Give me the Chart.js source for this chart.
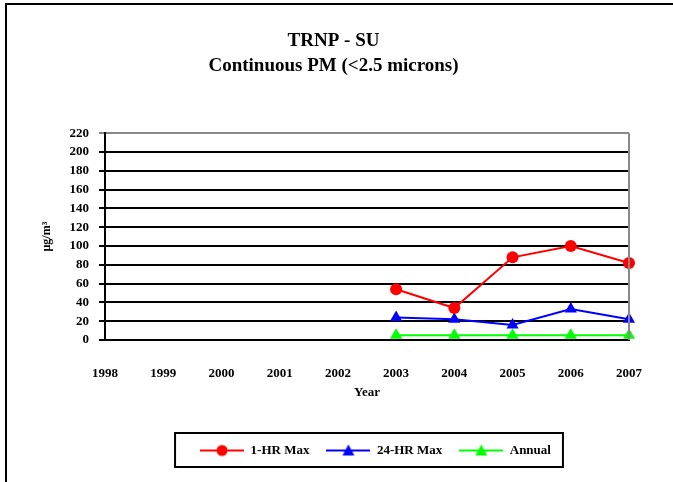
<!DOCTYPE html>
<html>
<head>
<meta charset="utf-8">
<script src="https://cdn.jsdelivr.net/npm/chart.js@4/dist/chart.umd.min.js"></script>
<style>
  html, body { margin: 0; padding: 0; background: #fff; }
  #wrap { width: 673px; height: 482px; position: relative; }
</style>
</head>
<body>
<div id="wrap"><canvas id="chart" width="673" height="482"></canvas></div>
<script>
const years = ['1998', '1999', '2000', '2001', '2002', '2003', '2004', '2005', '2006', '2007']
const oneHrMax = [null, null, null, null, null, 54, 34, 88, 100, 82]
const twentyFourHrMax = [null, null, null, null, null, 24, 22, 16, 33, 22]
const annual = [null, null, null, null, null, 5, 5, 5, 5, 5]
const titleLines = ['TRNP - SU', 'Continuous PM (<2.5 microns)']

const serif = "'Liberation Serif', 'Times New Roman', serif"

// small line + marker swatch for the legend
function swatch(color, style) {
    const c = document.createElement('canvas')
    c.width = 44
    c.height = 14
    const g = c.getContext('2d')
    g.strokeStyle = color
    g.lineWidth = 2
    g.beginPath()
    g.moveTo(0, 7)
    g.lineTo(44, 7)
    g.stroke()
    g.fillStyle = color
    g.beginPath()
    if (style === 'circle') {
        g.arc(22, 7, 5.5, 0, Math.PI * 2)
    } else {
        g.moveTo(22, 1)
        g.lineTo(28, 12)
        g.lineTo(16, 12)
        g.closePath()
    }
    g.fill()
    return c
}

const frame = {
    id: 'frame',
    afterLayout(chart) {
        // legend sits a bit right of centre in the original
        chart.legend.left += 42
        chart.legend.right += 42
    },
    afterDraw(chart) {
        const { ctx, chartArea: a, legend } = chart
        ctx.save()
        // plot right edge
        ctx.strokeStyle = '#888'
        ctx.lineWidth = 2
        ctx.beginPath()
        ctx.moveTo(a.right, a.top)
        ctx.lineTo(a.right, a.bottom)
        ctx.stroke()
        // outer border
        ctx.strokeStyle = '#000'
        ctx.lineWidth = 2
        ctx.strokeRect(6, 4, 700, 500)
        // legend box
        const hb = legend.legendHitBoxes
        if (hb && hb.length) {
            const last = hb[hb.length - 1]
            const left = hb[0].left - 25
            const right = last.left + last.width + 12
            ctx.strokeRect(left, legend.top + 6, right - left, legend.height - 6)
        }
        ctx.restore()
    }
}

new Chart(document.getElementById('chart'), {
    type: 'line',
    data: {
        labels: years,
        datasets: [
            {
                label: '1-HR Max',
                data: oneHrMax,
                borderColor: '#ff0000',
                backgroundColor: '#ff0000',
                borderWidth: 2,
                pointStyle: 'circle',
                pointRadius: 6,
                pointBorderWidth: 0
            },
            {
                label: '24-HR Max',
                data: twentyFourHrMax,
                borderColor: '#0000ff',
                backgroundColor: '#0000ff',
                borderWidth: 2,
                pointStyle: 'triangle',
                pointRadius: 7,
                pointBorderWidth: 0
            },
            {
                label: 'Annual',
                data: annual,
                borderColor: '#00ff00',
                backgroundColor: '#00ff00',
                borderWidth: 2,
                pointStyle: 'triangle',
                pointRadius: 7,
                pointBorderWidth: 0
            }
        ]
    },
    options: {
        responsive: false,
        animation: false,
        layout: { padding: { left: 38, right: 44, top: 10, bottom: 15 } },
        plugins: {
            title: {
                display: true,
                text: titleLines,
                color: '#000',
                font: { family: serif, size: 19, weight: 'bold', lineHeight: 1.35 },
                padding: { top: 18, bottom: 54 }
            },
            legend: {
                position: 'bottom',
                labels: {
                    usePointStyle: true,
                    pointStyleWidth: 44,
                    color: '#000',
                    font: { family: serif, size: 13, weight: 'bold' },
                    padding: 17,
                    generateLabels(chart) {
                        const shapes = ['circle', 'triangle', 'triangle']
                        return chart.data.datasets.map((ds, i) => ({
                            text: ds.label,
                            fillStyle: ds.borderColor,
                            strokeStyle: ds.borderColor,
                            lineWidth: 0,
                            pointStyle: swatch(ds.borderColor, shapes[i]),
                            datasetIndex: i,
                            hidden: false
                        }))
                    }
                }
            },
            tooltip: { enabled: false }
        },
        scales: {
            x: {
                offset: false,
                grid: { display: false, drawTicks: false },
                border: { display: true, color: '#000', width: 2 },
                ticks: {
                    color: '#000',
                    padding: 26,
                    maxRotation: 0,
                    autoSkip: false,
                    font: { family: serif, size: 13, weight: 'bold' }
                },
                title: {
                    display: true,
                    text: 'Year',
                    color: '#000',
                    font: { family: serif, size: 13, weight: 'bold' },
                    padding: { top: 6, bottom: 27 }
                },
                afterFit(scale) { scale.height = 87 }
            },
            y: {
                min: 0,
                max: 220,
                ticks: {
                    stepSize: 20,
                    autoSkip: false,
                    color: '#000',
                    padding: 10,
                    font: { family: serif, size: 13, weight: 'bold' }
                },
                grid: {
                    color: ctx => ctx.tick && ctx.tick.value === 220 ? '#888' : '#000',
                    lineWidth: 2,
                    drawTicks: true,
                    tickLength: 6
                },
                border: { display: true, color: '#000', width: 2 },
                title: {
                    display: true,
                    text: 'µg/m³',
                    color: '#000',
                    font: { family: serif, size: 12, weight: 'bold' },
                    padding: { top: 2, bottom: 6 }
                },
                afterFit(scale) { scale.width = 67 }
            }
        }
    },
    plugins: [frame]
})
</script>
</body>
</html>
